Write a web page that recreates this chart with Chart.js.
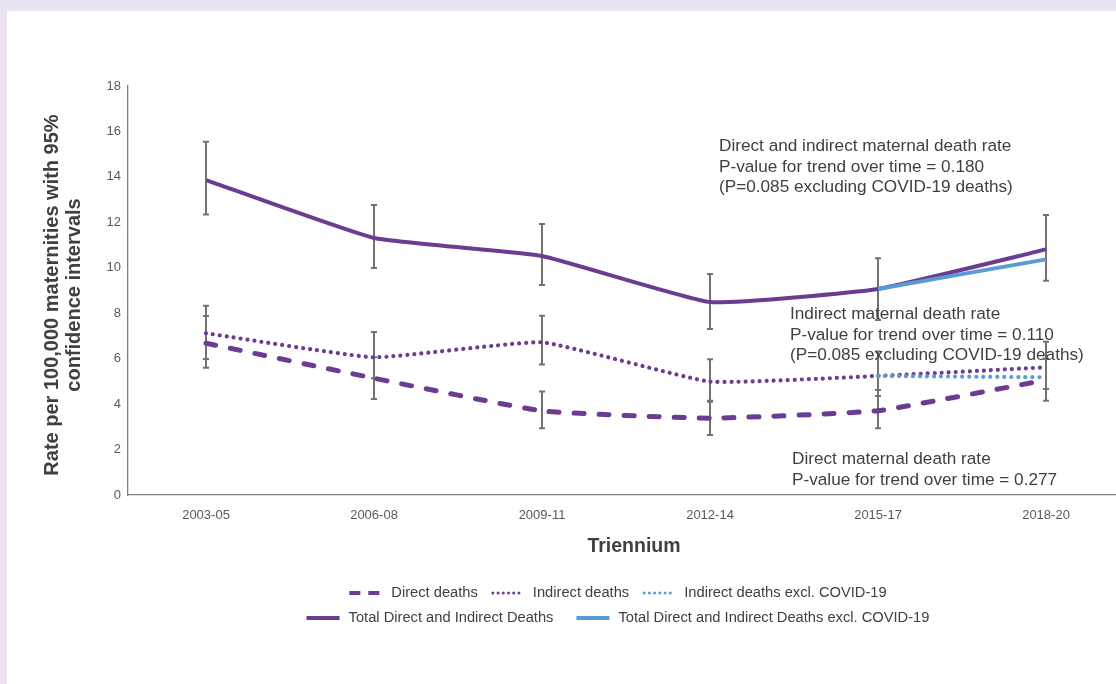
<!DOCTYPE html>
<html>
<head>
<meta charset="utf-8">
<script src="https://cdn.jsdelivr.net/npm/chart.js@4/dist/chart.umd.min.js"></script>
<style>
  html, body { margin: 0; padding: 0; width: 1116px; height: 684px; overflow: hidden; background: #ebe4f0; }
  #panel { position: absolute; left: 7px; top: 11px; width: 1130px; height: 690px; background: #ffffff; }
  #wrap { position: absolute; left: 0; top: 0; width: 1150px; height: 684px; }
</style>
</head>
<body>
<div id="panel"></div>
<div id="wrap"><canvas id="c" width="1150" height="684"></canvas></div>
<script>
// Triennia on the x axis
const triennia = ['2003-05', '2006-08', '2009-11', '2012-14', '2015-17', '2018-20'];

// Rates per 100,000 maternities, with 95% confidence limits
const directRate   = [6.68, 5.14, 3.70, 3.38, 3.71, 5.06];
const directLow    = [5.60, 4.22, 2.94, 2.64, 2.94, 4.15];
const directHigh   = [7.88, 6.06, 4.55, 4.15, 4.62, 6.00];

const indirectRate = [7.12, 6.06, 6.72, 4.99, 5.24, 5.62];
const indirectLow  = [5.99, 5.14, 5.74, 4.10, 4.36, 4.67];
const indirectHigh = [8.33, 7.17, 7.89, 5.97, 6.31, 6.75];
const indirectExclCovid = [null, null, null, null, 5.24, 5.18];

const totalRate    = [13.86, 11.31, 10.52, 8.49, 9.07, 10.81];
const totalLow     = [12.35, 9.99, 9.24, 7.31, 7.70, 9.43];
const totalHigh    = [15.55, 12.76, 11.93, 9.73, 10.42, 12.32];
const totalExclCovid = [null, null, null, null, 9.07, 10.37];

const yTicks = [0, 2, 4, 6, 8, 10, 12, 14, 16, 18];

// Colours and fonts
const purple = '#6a3d91';
const blue = '#5b9bd5';
const ciGray = '#767171';
const textGray = '#404040';
const tickGray = '#595959';
const FONT = '"Liberation Sans", Arial, Helvetica, sans-serif';

const pts = arr => arr.map((v, i) => ({ x: i, y: v }));

// Vertical confidence-interval whiskers
const errorBars = {
  id: 'errorBars',
  beforeDatasetsDraw(chart) {
    const { ctx, scales: { x, y } } = chart;
    ctx.save();
    ctx.strokeStyle = ciGray;
    ctx.lineWidth = 2;
    const groups = [[totalLow, totalHigh], [indirectLow, indirectHigh], [directLow, directHigh]];
    for (const [lo, hi] of groups) {
      lo.forEach((l, i) => {
        const px = Math.round(x.getPixelForValue(i));
        const y1 = y.getPixelForValue(l);
        const y2 = y.getPixelForValue(hi[i]);
        ctx.beginPath();
        ctx.moveTo(px, y1); ctx.lineTo(px, y2);
        ctx.moveTo(px - 3, y1); ctx.lineTo(px + 3, y1);
        ctx.moveTo(px - 3, y2); ctx.lineTo(px + 3, y2);
        ctx.stroke();
      });
    }
    ctx.restore();
  }
};

// Axis titles, trend annotations and legend
const legendRows = [
  [
    { label: 'Direct deaths', color: purple, width: 4, dash: [11, 8], cap: 'butt' },
    { label: 'Indirect deaths', color: purple, width: 3, dash: [0.01, 5.2], cap: 'round' },
    { label: 'Indirect deaths excl. COVID-19', color: blue, width: 3, dash: [0.01, 5.2], cap: 'round' }
  ],
  [
    { label: 'Total Direct and Indirect Deaths', color: purple, width: 4, dash: [], cap: 'butt' },
    { label: 'Total Direct and Indirect Deaths excl. COVID-19', color: blue, width: 4, dash: [], cap: 'butt' }
  ]
];

const annotations = [
  { x: 719, y: 146, lines: ['Direct and indirect maternal death rate', 'P-value for trend over time = 0.180', '(P=0.085 excluding COVID-19 deaths)'] },
  { x: 790, y: 314, lines: ['Indirect maternal death rate', 'P-value for trend over time = 0.110', '(P=0.085 excluding COVID-19 deaths)'] },
  { x: 792, y: 459, lines: ['Direct maternal death rate', 'P-value for trend over time = 0.277'] }
];

const decorations = {
  id: 'decorations',
  afterDraw(chart) {
    const ctx = chart.ctx;
    ctx.save();

    // y-axis title (two rotated lines)
    ctx.fillStyle = textGray;
    ctx.font = 'bold 20px ' + FONT;
    ctx.textAlign = 'center';
    ctx.textBaseline = 'middle';
    ['Rate per 100,000 maternities with 95%', 'confidence intervals'].forEach((t, k) => {
      ctx.save();
      ctx.translate(52 + k * 22, 295);
      ctx.rotate(-Math.PI / 2);
      ctx.fillText(t, 0, 0);
      ctx.restore();
    });

    // x-axis title
    ctx.font = 'bold 19.5px ' + FONT;
    ctx.fillText('Triennium', 634, 547);

    // trend annotations
    ctx.font = '17.2px ' + FONT;
    ctx.textAlign = 'left';
    ctx.fillStyle = textGray;
    for (const a of annotations) {
      a.lines.forEach((t, k) => ctx.fillText(t, a.x, a.y + k * 20.8));
    }

    // legend
    ctx.font = '14.7px ' + FONT;
    const sampleW = 33, sampleGap = 9;
    const rowY = [593, 618];
    const itemGap = [13, 23];
    legendRows.forEach((row, r) => {
      const widths = row.map(it => sampleW + sampleGap + ctx.measureText(it.label).width);
      const total = widths.reduce((s, w) => s + w, 0) + itemGap[r] * (row.length - 1);
      let cx = 618 - total / 2;
      row.forEach((it, k) => {
        ctx.save();
        ctx.strokeStyle = it.color;
        ctx.lineWidth = it.width;
        ctx.lineCap = it.cap;
        ctx.setLineDash(it.dash);
        ctx.beginPath();
        ctx.moveTo(cx + (it.cap === 'round' ? 2 : 0), rowY[r]);
        ctx.lineTo(cx + sampleW, rowY[r]);
        ctx.stroke();
        ctx.restore();
        ctx.fillStyle = textGray;
        ctx.textBaseline = 'middle';
        ctx.fillText(it.label, cx + sampleW + sampleGap, rowY[r]);
        cx += widths[k] + itemGap[r];
      });
    });

    ctx.restore();
  }
};

new Chart(document.getElementById('c'), {
  type: 'line',
  data: {
    datasets: [
      {
        label: 'Total Direct and Indirect Deaths excl. COVID-19',
        data: pts(totalExclCovid),
        borderColor: blue, borderWidth: 4, order: 0
      },
      {
        label: 'Total Direct and Indirect Deaths',
        data: pts(totalRate),
        borderColor: purple, borderWidth: 4, order: 1
      },
      {
        label: 'Indirect deaths excl. COVID-19',
        data: pts(indirectExclCovid),
        borderColor: blue, borderWidth: 4.2, borderDash: [0.01, 7], borderCapStyle: 'round', order: 2
      },
      {
        label: 'Indirect deaths',
        data: pts(indirectRate),
        borderColor: purple, borderWidth: 4.2, borderDash: [0.01, 7], borderCapStyle: 'round', order: 3
      },
      {
        label: 'Direct deaths',
        data: pts(directRate),
        borderColor: purple, borderWidth: 5, borderDash: [10, 15], borderCapStyle: 'round', order: 4
      }
    ]
  },
  options: {
    responsive: false,
    animation: false,
    devicePixelRatio: 1,
    layout: { padding: { top: 86, left: 0, right: 0, bottom: 0 } },
    elements: {
      point: { radius: 0, hoverRadius: 0 },
      line: { tension: 0.12, fill: false }
    },
    plugins: {
      legend: { display: false },
      tooltip: { enabled: false },
      title: { display: false }
    },
    scales: {
      x: {
        type: 'linear',
        min: -0.4643,
        max: 5.619,
        grid: { display: false, drawTicks: false },
        border: { display: true, color: '#7f7f7f', width: 1.3 },
        afterBuildTicks: s => { s.ticks = triennia.map((_, i) => ({ value: i })); },
        afterFit: s => { s.height = 684 - 495; },
        ticks: {
          color: tickGray,
          font: { family: FONT, size: 13 },
          padding: 13,
          maxRotation: 0,
          autoSkip: false,
          callback: v => triennia[v]
        }
      },
      y: {
        min: 0,
        max: 18,
        grid: { display: false, drawTicks: false },
        border: { display: true, color: '#7f7f7f', width: 1.3 },
        afterBuildTicks: s => { s.ticks = yTicks.map(v => ({ value: v })); },
        afterFit: s => { s.width = 128; },
        ticks: {
          color: tickGray,
          font: { family: FONT, size: 13 },
          padding: 7
        }
      }
    }
  },
  plugins: [errorBars, decorations]
});
</script>
</body>
</html>
